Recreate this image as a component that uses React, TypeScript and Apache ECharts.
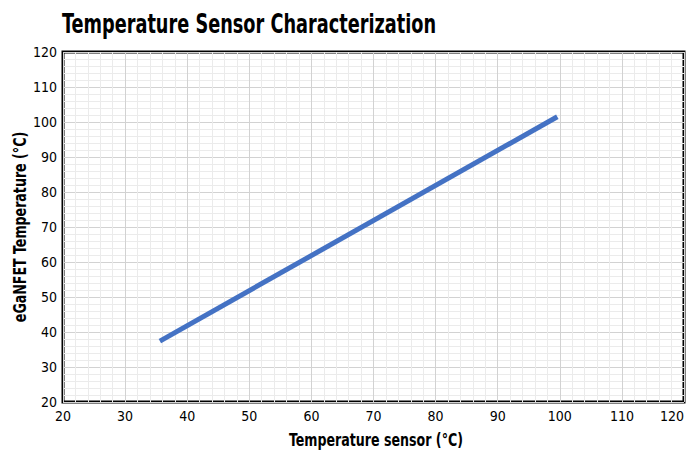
import React, { useEffect, useRef } from "react";
import * as echarts from "echarts";

const TITLE = "Temperature Sensor Characterization";
const X_NAME = "Temperature sensor (°C)";
const Y_NAME = "eGaNFET Temperature (°C)";
const sensorTemps = [35.6, 99.6];
const ganTemps = [37.4, 101.5];

const FONT = "'DejaVu Sans Condensed', 'Liberation Sans', sans-serif";

export default function App() {
  const ref = useRef<HTMLDivElement>(null);
  useEffect(() => {
    if (!ref.current) return;
    const chart = echarts.init(ref.current, null, { renderer: "svg" });
    const data = sensorTemps.map((x, i) => [x, ganTemps[i]]);
    chart.setOption({
      animation: false,
      backgroundColor: "#ffffff",
      graphic: [
        {
          type: "text",
          x: 62,
          y: 24,
          scaleX: 0.73,
          style: {
            text: TITLE,
            font: `bold 27px ${FONT}`,
            fill: "#000",
            align: "left",
            verticalAlign: "middle",
          },
        },
        {
          type: "text",
          x: 376,
          y: 440,
          scaleX: 0.78,
          style: {
            text: X_NAME,
            font: `bold 18px ${FONT}`,
            fill: "#000",
            align: "center",
            verticalAlign: "middle",
          },
        },
        {
          type: "text",
          x: 20,
          y: 227,
          rotation: Math.PI / 2,
          scaleX: 0.78,
          style: {
            text: Y_NAME,
            font: `bold 18px ${FONT}`,
            fill: "#000",
            align: "center",
            verticalAlign: "middle",
          },
        },
      ],
      grid: {
        left: 63,
        right: 6,
        top: 52,
        bottom: 51,
        containLabel: false,
        outerBoundsMode: "none",
        show: true,
        borderColor: "#000",
        borderWidth: 3,
      },
      xAxis: {
        type: "value",
        min: 20,
        max: 120,
        interval: 10,
        axisLine: { show: false },
        axisTick: { show: false },
        axisLabel: { fontFamily: FONT, fontSize: 14, color: "#000", margin: 7, alignMaxLabel: "right" },
        splitLine: { show: true, lineStyle: { color: "#d2d2d2", width: 1, type: "solid" } },
        minorTick: { show: false, splitNumber: 5 },
        minorSplitLine: { show: true, lineStyle: { color: "#ebebeb", width: 1, type: "solid" } },
      },
      yAxis: {
        type: "value",
        min: 20,
        max: 120,
        interval: 10,
        axisLine: { show: false },
        axisTick: { show: false },
        axisLabel: { fontFamily: FONT, fontSize: 14, color: "#000", margin: 6 },
        splitLine: { show: true, lineStyle: { color: "#d2d2d2", width: 1, type: "solid" } },
        minorTick: { show: false, splitNumber: 5 },
        minorSplitLine: { show: true, lineStyle: { color: "#ebebeb", width: 1, type: "solid" } },
      },
      series: [
        {
          type: "line",
          data,
          symbol: "none",
          lineStyle: { color: "#4472C4", width: 5 },
        },
      ],
    });
    return () => chart.dispose();
  }, []);
  return <div ref={ref} style={{ position: "fixed", left: 0, top: 0, width: 690, height: 453 }} />;
}
